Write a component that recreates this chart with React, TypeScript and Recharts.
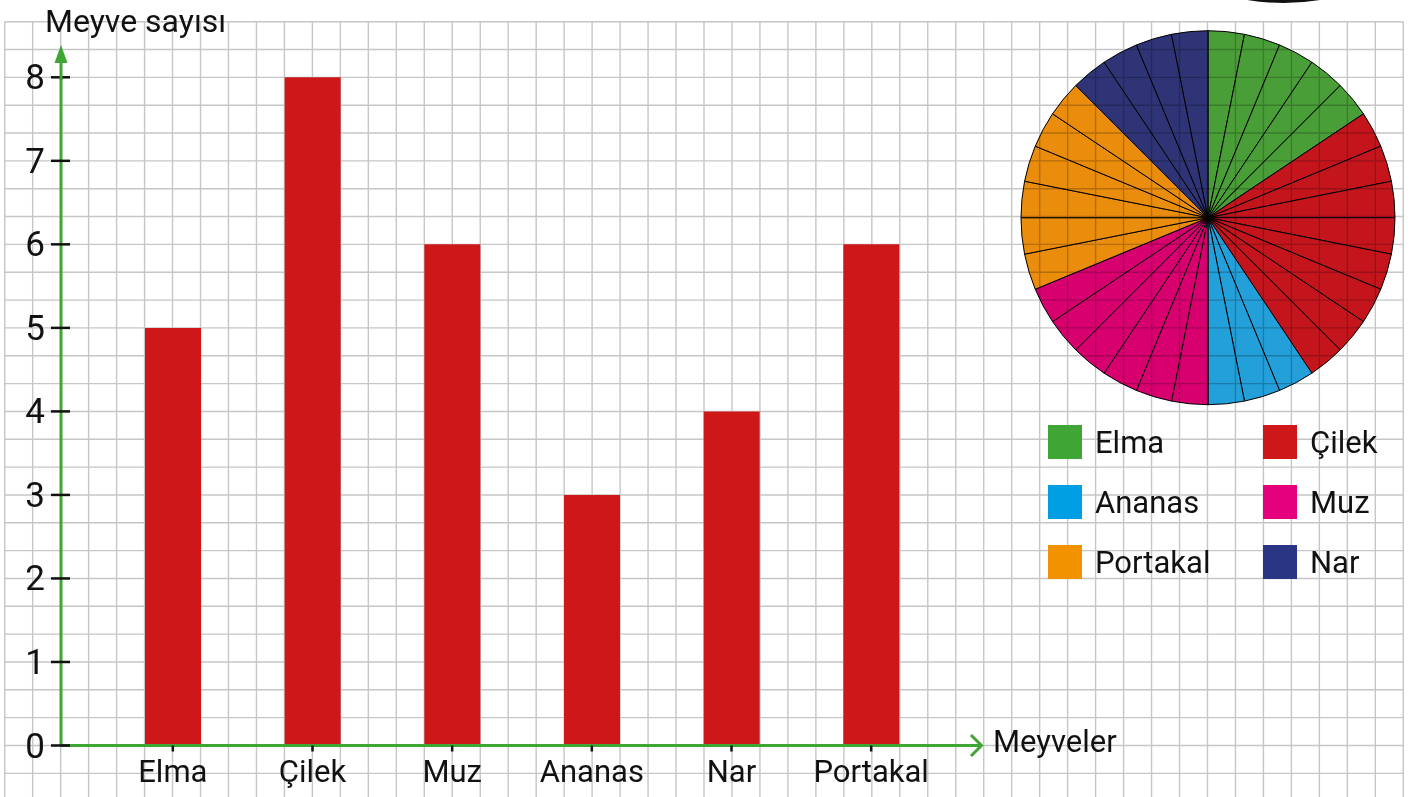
import React from "react"
import { Bar, BarChart, Cell, Pie, PieChart, XAxis, YAxis } from "recharts"

// bar chart values (order as on the x axis)
const fruits = ["Elma", "Çilek", "Muz", "Ananas", "Nar", "Portakal"]
const counts = [5, 8, 6, 3, 4, 6]
const yTicks = [0, 1, 2, 3, 4, 5, 6, 7, 8]

// pie order (clockwise from 12 o'clock) and colours
const pieOrder = ["Elma", "Çilek", "Ananas", "Muz", "Portakal", "Nar"]
const pieColors = ["#4a9e38", "#c4151c", "#239fd9", "#d8006f", "#ea8c0c", "#2e3476"]
const legendColors = ["#3fa535", "#cd1719", "#009fe3", "#e5007e", "#f39200", "#2a3584"]

const W = 1412
const H = 797
const GREEN = "#3fa535"
const BAR_RED = "#cd1719"
const FONT = "Roboto, 'Noto Sans', sans-serif"

const AXIS_X = 61
const AXIS_Y = 745.5

const barData = fruits.map((name, i) => ({ name, value: counts[i] }))

// one unit slice per fruit so the pie shows the individual counts
const pieData = pieOrder.flatMap((name, i) =>
  Array.from({ length: counts[fruits.indexOf(name)] }, () => ({ name, value: 1, fill: pieColors[i] }))
)

function GridPaper() {
  const lines = []
  const x0 = 4.7, x1 = 1403.3, y0 = 21.7, y1 = 797
  const sx = (x1 - x0) / 50
  const sy = (AXIS_Y - y0) / 26
  for (let k = 0; k <= 50; k++) {
    const x = x0 + k * sx
    lines.push(<line key={"v" + k} x1={x} x2={x} y1={y0} y2={y1} stroke="#c6c6c6" strokeWidth={1.4} />)
  }
  for (let k = 0; y0 + k * sy <= y1; k++) {
    const y = y0 + k * sy
    lines.push(<line key={"h" + k} x1={x0} x2={x1} y1={y} y2={y} stroke="#c6c6c6" strokeWidth={1.4} />)
  }
  return (
    <svg width={W} height={H} style={{ position: "absolute", left: 0, top: 0, mixBlendMode: "multiply" }}>
      {lines}
    </svg>
  )
}

function YTick(props: any) {
  const { y, payload } = props
  return (
    <g>
      <line x1={51} x2={70} y1={y} y2={y} stroke="#111" strokeWidth={2.5} />
      <text x={45} y={y + 12} textAnchor="end" fontSize={35} fontFamily={FONT} fill="#111">
        {payload.value}
      </text>
    </g>
  )
}

function XTick(props: any) {
  const { x, payload } = props
  return (
    <g>
      <line x1={x} x2={x} y1={AXIS_Y} y2={AXIS_Y + 6} stroke="#111" strokeWidth={2.5} />
      <text x={x} y={782} textAnchor="middle" fontSize={31} fontFamily={FONT} fill="#111">
        {payload.value}
      </text>
    </g>
  )
}

function Overlay() {
  return (
    <svg width={W} height={H} style={{ position: "absolute", left: 0, top: 0, pointerEvents: "none" }}>
      <line x1={AXIS_X} x2={AXIS_X} y1={55} y2={80} stroke={GREEN} strokeWidth={3} />
      <polygon points={`${AXIS_X},45 ${AXIS_X - 6.5},63 ${AXIS_X + 6.5},63`} fill={GREEN} />
      <polyline points={`971,735 981.5,745.5 971,756`} fill="none" stroke={GREEN} strokeWidth={3} />
      <text x={45} y={32} fontSize={32} fontFamily={FONT} fill="#111">Meyve  sayısı</text>
      <text x={993} y={752} fontSize={31} fontFamily={FONT} fill="#111">Meyveler</text>
      <path d="M1247,0 Q1284,6 1320,0 Z" fill="#111" />
    </svg>
  )
}

function FruitLegend() {
  return (
    <div style={{ position: "absolute", left: 1048, top: 425, width: 360, fontFamily: FONT }}>
      {pieOrder.map((name, i) => (
        <div
          key={name}
          style={{
            position: "absolute",
            left: (i % 2) * 215,
            top: Math.floor(i / 2) * 60,
            display: "flex",
            alignItems: "center",
            height: 34,
          }}
        >
          <div style={{ width: 34, height: 34, background: legendColors[i] }} />
          <span style={{ marginLeft: 13, fontSize: 31, color: "#111", whiteSpace: "nowrap" }}>{name}</span>
        </div>
      ))}
    </div>
  )
}

export default function App() {
  return (
    <div style={{ position: "absolute", left: 0, top: 0, width: W, height: H, background: "#fff", overflow: "hidden" }}>
      <div style={{ position: "absolute", left: 0, top: 0 }}>
        <PieChart width={W} height={H} margin={{ top: 0, right: 0, bottom: 0, left: 0 }}>
          <Pie
            data={pieData}
            dataKey="value"
            cx={1208}
            cy={217.7}
            outerRadius={187}
            startAngle={90}
            endAngle={-270}
            stroke="#000"
            strokeWidth={1}
            isAnimationActive={false}
          >
            {pieData.map((d, i) => (
              <Cell key={i} fill={d.fill} />
            ))}
          </Pie>
        </PieChart>
      </div>
      <GridPaper />
      <div style={{ position: "absolute", left: 0, top: 0 }}>
        <BarChart width={W} height={H} data={barData} margin={{ top: 77.3, right: W - 981, bottom: 0, left: 0 }}>
          <XAxis
            dataKey="name"
            height={H - AXIS_Y}
            padding={{ left: 42, right: 40 }}
            axisLine={{ stroke: GREEN, strokeWidth: 3 }}
            tickLine={false}
            tick={<XTick />}
            interval={0}
          />
          <YAxis
            width={AXIS_X}
            domain={[0, 8]}
            ticks={yTicks}
            axisLine={{ stroke: GREEN, strokeWidth: 3 }}
            tickLine={false}
            tick={<YTick />}
            interval={0}
          />
          <Bar dataKey="value" fill={BAR_RED} barSize={56} isAnimationActive={false} />
        </BarChart>
      </div>
      <Overlay />
      <FruitLegend />
    </div>
  )
}
